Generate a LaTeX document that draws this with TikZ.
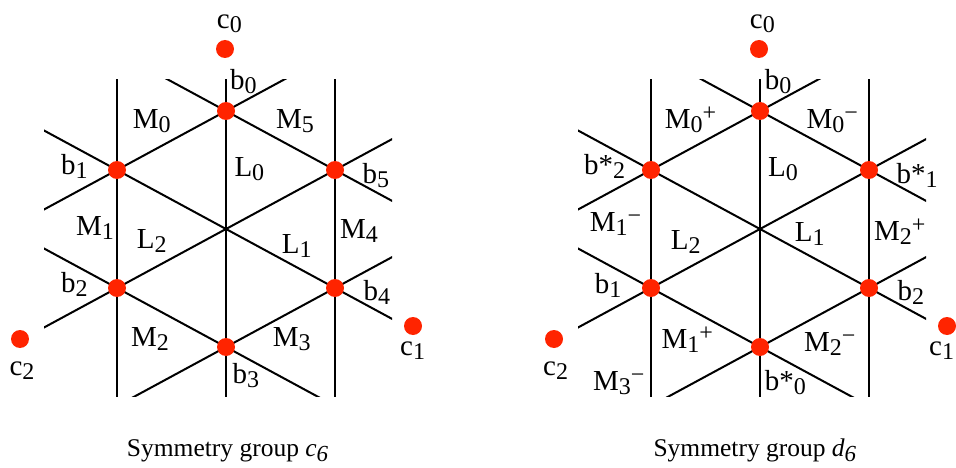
\documentclass[tikz,border=0pt]{standalone}
\usepackage{fontspec}
\setmainfont{Liberation Serif}
\usepackage{xcolor}
\definecolor{dotred}{RGB}{255, 36,  0}
\usepackage{tikz}
\usetikzlibrary{calc}
\newcommand{\sub}[1]{\raisebox{-4pt}{\fontsize{24}{24}\selectfont #1}}
\newcommand{\up}[1]{\raisebox{8pt}{\fontsize{24}{24}\selectfont #1}}
\tikzset{
  gridline/.style={line width=2pt, color=black},
  vtx/.style={circle, fill=dotred, minimum size=18pt, inner sep=0pt},
  lab/.style={anchor=base west, inner sep=0pt, font=\fontsize{29}{29}\selectfont},
  caption/.style={anchor=base west, inner sep=0pt, font=\fontsize{25.5}{26}\selectfont}
}

\begin{document}
\begin{tikzpicture}[x=1pt, y=-1pt]

  \useasboundingbox (0,0) rectangle (956,468);

  % the same lattice twice
  \foreach \dx/\pre in {0/l, 534/r} {
    \begin{scope}[xshift=\dx pt, name prefix=\pre-]
      \coordinate (v0) at (226,111);
      \coordinate (v1) at (117,170);
      \coordinate (v2) at (117,288);
      \coordinate (v3) at (226,347);
      \coordinate (v4) at (335,288);
      \coordinate (v5) at (335,170);
      \begin{scope}
        \clip (44,80) rectangle (392,396);
        \draw[gridline] ($(v1)!-3!(v2)$) -- ($(v2)!-3!(v1)$);
        \draw[gridline] ($(v0)!-3!(v3)$) -- ($(v3)!-3!(v0)$);
        \draw[gridline] ($(v5)!-3!(v4)$) -- ($(v4)!-3!(v5)$);
        \draw[gridline] ($(v0)!-3!(v5)$) -- ($(v5)!-3!(v0)$);
        \draw[gridline] ($(v1)!-3!(v4)$) -- ($(v4)!-3!(v1)$);
        \draw[gridline] ($(v2)!-3!(v3)$) -- ($(v3)!-3!(v2)$);
        \draw[gridline] ($(v0)!-3!(v1)$) -- ($(v1)!-3!(v0)$);
        \draw[gridline] ($(v5)!-3!(v2)$) -- ($(v2)!-3!(v5)$);
        \draw[gridline] ($(v4)!-3!(v3)$) -- ($(v3)!-3!(v4)$);
      \end{scope}
      \node[vtx] (b0) at (v0) {};
      \node[vtx] (b1) at (v1) {};
      \node[vtx] (b2) at (v2) {};
      \node[vtx] (b3) at (v3) {};
      \node[vtx] (b4) at (v4) {};
      \node[vtx] (b5) at (v5) {};
      \node[vtx] (c0) at (225,49) {};
      \node[vtx] (c1) at (413,326) {};
      \node[vtx] (c2) at (20,339) {};
    \end{scope}
  }

  % left: c6
  \node[lab] (lc0) at (216.7,28.3) {c\sub{0}};
  \node[lab] (lb0) at (230,90) {b\sub{0}};
  \node[lab] (lM0) at (132.7,128.3) {M\sub{0}};
  \node[lab] (lM5) at (276,128.3) {M\sub{5}};
  \node[lab] (lb1) at (61,175) {b\sub{1}};
  \node[lab] (lL0) at (234.3,176.7) {L\sub{0}};
  \node[lab] (lb5) at (362.3,183.3) {b\sub{5}};
  \node[lab] (lM1) at (76,235) {M\sub{1}};
  \node[lab] (lL2) at (136.7,248.3) {L\sub{2}};
  \node[lab] (lL1) at (281.7,253.3) {L\sub{1}};
  \node[lab] (lM4) at (340,238.3) {M\sub{4}};
  \node[lab] (lb2) at (61,292.7) {b\sub{2}};
  \node[lab] (lb4) at (363.3,300) {b\sub{4}};
  \node[lab] (lM2) at (131,346.7) {M\sub{2}};
  \node[lab] (lM3) at (272.7,346.7) {M\sub{3}};
  \node[lab] (lb3) at (232.3,383.3) {b\sub{3}};
  \node[lab] (lc2) at (9.3,375) {c\sub{2}};
  \node[lab] (lc1) at (400,355) {c\sub{1}};

  % right: d6
  \node[lab] (rc0) at (749.7,28.3) {c\sub{0}};
  \node[lab] (rb0) at (764.7,90) {b\sub{0}};
  \node[lab] (rM0p) at (664.7,128.3) {M\sub{0}\up{+}};
  \node[lab] (rM0m) at (806.3,128.3) {M\sub{0}\up{−}};
  \node[lab] (rbs2) at (584,175) {b*\sub{2}};
  \node[lab] (rL0) at (768,176.7) {L\sub{0}};
  \node[lab] (rbs1) at (896.3,183.3) {b*\sub{1}};
  \node[lab] (rM1m) at (589.7,231.7) {M\sub{1}\up{−}};
  \node[lab] (rL2) at (670.7,249.3) {L\sub{2}};
  \node[lab] (rL1) at (794.7,241.7) {L\sub{1}};
  \node[lab] (rM2p) at (874,240) {M\sub{2}\up{+}};
  \node[lab] (rb1) at (594.7,293.3) {b\sub{1}};
  \node[lab] (rb2) at (897.3,300) {b\sub{2}};
  \node[lab] (rM1p) at (661.3,348.3) {M\sub{1}\up{+}};
  \node[lab] (rM2m) at (804,351.7) {M\sub{2}\up{−}};
  \node[lab] (rM3m) at (593,390) {M\sub{3}\up{−}};
  \node[lab] (rbs0) at (764.7,390) {b*\sub{0}};
  \node[lab] (rc2) at (543,375) {c\sub{2}};
  \node[lab] (rc1) at (929,355) {c\sub{1}};

  \node[caption] (capl) at (126.7,456.7)
    {Symmetry group \textit{c\raisebox{-5pt}{\fontsize{23}{23}\selectfont 6}}};
  \node[caption] (capr) at (653.3,456.7)
    {Symmetry group \textit{d\raisebox{-5pt}{\fontsize{23}{23}\selectfont 6}}};

\end{tikzpicture}
\end{document}
